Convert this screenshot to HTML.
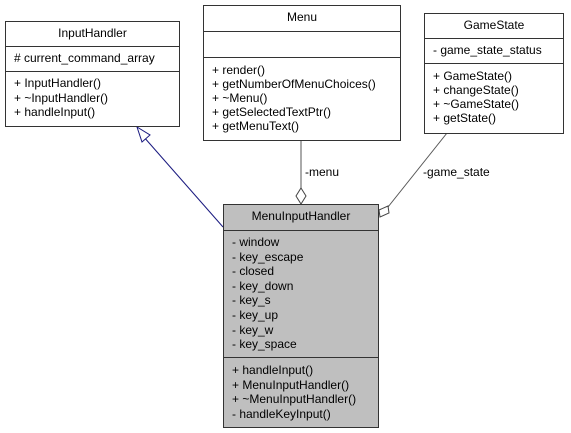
<!DOCTYPE html>
<html><head><meta charset="utf-8"><style>
body{margin:0;background:#fff;width:571px;height:433px;overflow:hidden;font-family:"Liberation Sans",Arial,sans-serif;font-size:12px;}
.b{position:absolute;border:1px solid #333;box-sizing:border-box;background:#fff}
.s{border-bottom:1px solid #333;box-sizing:border-box;padding:2px 0 0 8px;line-height:14.5px;white-space:nowrap}
.t{text-align:center;padding:4px 0 0 0}
.l{position:absolute;font-size:12px;white-space:nowrap}
</style></head><body>
<svg width="571" height="433" style="position:absolute;left:0;top:0">
<line x1="143" y1="136" x2="223" y2="227" stroke="#1a1a80" stroke-width="1"/>
<polygon points="137,127 150,135 142,142" fill="#fff" stroke="#1a1a80"/>
<line x1="301" y1="140" x2="301" y2="189" stroke="#555"/>
<polygon points="301,188 306,196 301,204 296,196" fill="#fff" stroke="#444"/>
<line x1="447" y1="133" x2="388" y2="207" stroke="#555"/>
<polygon points="379,210 388,206 389,213 380,217" fill="#fff" stroke="#444"/>
</svg>
<div class="b" style="left:5px;top:21px;width:175px;height:106px">
<div class="s t" style="height:25px">InputHandler</div>
<div class="s" style="height:25px;padding-top:4px"># current_command_array</div>
<div class="s" style="border:0;padding-top:4px;line-height:14.5px">+ InputHandler()<br>+ ~InputHandler()<br>+ handleInput()</div></div>
<div class="b" style="left:203px;top:5px;width:198px;height:136px">
<div class="s t" style="height:26px">Menu</div>
<div class="s" style="height:26px"></div>
<div class="s" style="border:0;padding-top:5px;line-height:14px">+ render()<br>+ getNumberOfMenuChoices()<br>+ ~Menu()<br>+ getSelectedTextPtr()<br>+ getMenuText()</div></div>
<div class="b" style="left:424px;top:13px;width:140px;height:121px">
<div class="s t" style="height:25px">GameState</div>
<div class="s" style="height:25px;padding-top:4px">- game_state_status</div>
<div class="s" style="border:0;padding-top:5px;line-height:14px">+ GameState()<br>+ changeState()<br>+ ~GameState()<br>+ getState()</div></div>
<div class="b" style="left:223px;top:204px;width:156px;height:224px;background:#bfbfbf">
<div class="s t" style="height:26px">MenuInputHandler</div>
<div class="s" style="height:127px;padding-top:4px;line-height:14.6px">- window<br>- key_escape<br>- closed<br>- key_down<br>- key_s<br>- key_up<br>- key_w<br>- key_space</div>
<div class="s" style="border:0;padding-top:5px;line-height:14.6px">+ handleInput()<br>+ MenuInputHandler()<br>+ ~MenuInputHandler()<br>- handleKeyInput()</div></div>
<div class="l" style="left:305px;top:165px">-menu</div>
<div class="l" style="left:423px;top:165px">-game_state</div>
</body></html>
